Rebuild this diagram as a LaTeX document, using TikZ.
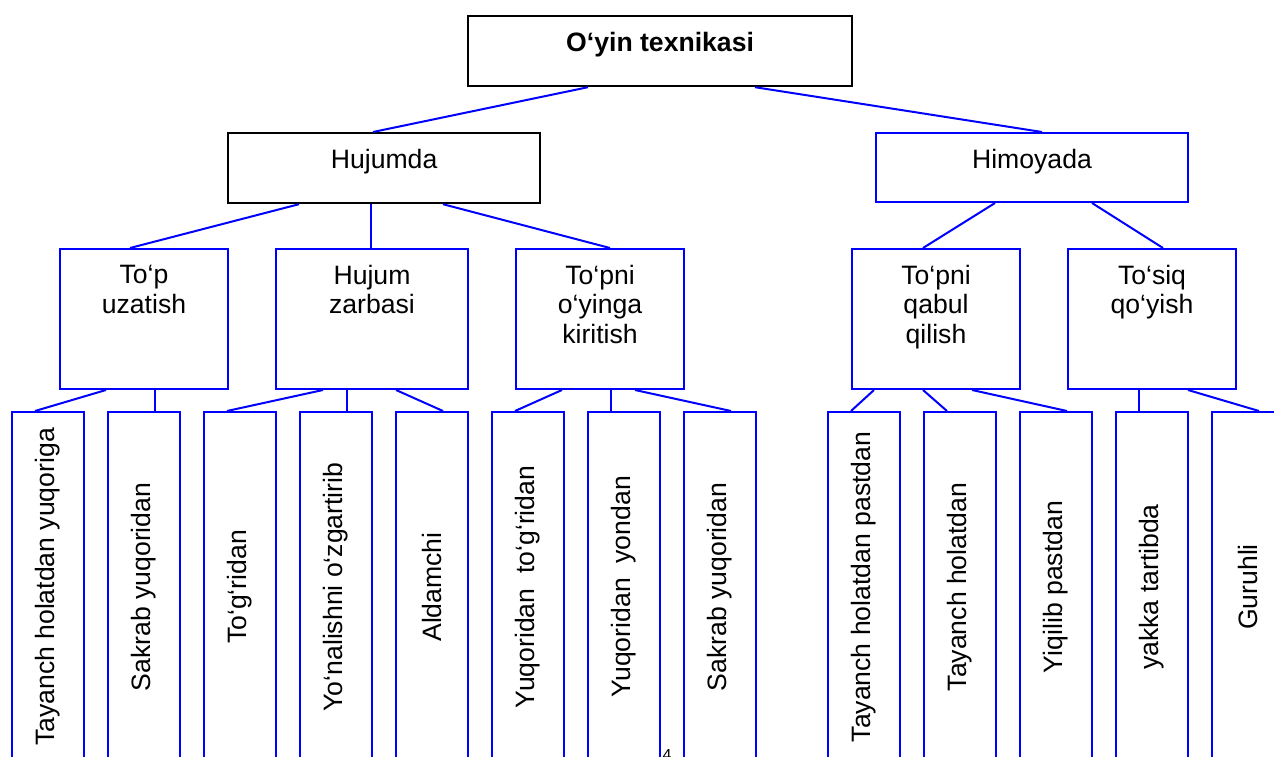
\documentclass[tikz,border=0pt]{standalone}
\usepackage{fontspec}
\setmainfont{Liberation Sans}
\usetikzlibrary{calc}
\tikzset{
  con/.style={draw=blue, line width=2pt},
  boxK/.style={rectangle, draw=black, line width=2.2pt, minimum width=#1, minimum height=70pt, inner sep=0pt, anchor=north west},
  boxB/.style={rectangle, draw=blue, line width=2pt, minimum width=#1, minimum height=69pt, inner sep=0pt, anchor=north west},
  midbox/.style={rectangle, draw=blue, line width=2pt, minimum width=#1, minimum height=140pt, inner sep=0pt, anchor=north west},
  leafbox/.style={rectangle, draw=blue, line width=2pt, minimum width=72pt, minimum height=350pt, inner sep=0pt, anchor=north west, font=\fontsize{26.6}{29.5}\selectfont},
  txt/.style={inner sep=0pt, align=center, font=\fontsize{26.6}{29.5}\selectfont}
}
\begin{document}
\begin{tikzpicture}[x=1pt,y=-1pt]
\useasboundingbox (0,0) rectangle (1274,757);
\fill[white] (0,0) rectangle (1274,757);
\clip (0,0) rectangle (1274,757);

% level 0
\node[boxK=384pt] (t) at (467,15) {};
\node[txt, anchor=base, font=\fontsize{26.6}{29.5}\selectfont\bfseries] (tt) at ($(t.north)+(0,37)$) {O‘yin texnikasi};

% level 1
\node[boxK=312pt] (hu) at (227,132) {};
\node[txt, anchor=base] (hut) at ($(hu.north)+(0,36)$) {Hujumda};
\node[boxB=312pt] (hi) at (875,132) {};
\node[txt, anchor=base] (hit) at ($(hi.north)+(0,36)$) {Himoyada};

% level 2
\node[midbox=168pt] (p1) at (59,248) {};
\node[midbox=192pt] (p2) at (275,248) {};
\node[midbox=168pt] (p3) at (515,248) {};
\node[midbox=168pt] (p4) at (851,248) {};
\node[midbox=168pt] (p5) at (1067,248) {};
\node[txt, anchor=north] (p1t) at ($(p1.north)+(0,17)$) {To‘p\\uzatish};
\node[txt, anchor=north] (p2t) at ($(p2.north)+(0,17)$) {Hujum\\zarbasi};
\node[txt, anchor=north] (p3t) at ($(p3.north)+(0,17)$) {To‘pni\\o‘yinga\\kiritish};
\node[txt, anchor=north] (p4t) at ($(p4.north)+(0,17)$) {To‘pni\\qabul\\qilish};
\node[txt, anchor=north] (p5t) at ($(p5.north)+(0,17)$) {To‘siq\\qo‘yish};

% leaves
\node[leafbox] (l1) at (11,411) {\rotatebox{90}{Tayanch holatdan yuqoriga}};
\node[leafbox] (l2) at (107,411) {\rotatebox{90}{Sakrab yuqoridan}};
\node[leafbox] (l3) at (203,411) {\rotatebox{90}{To‘g‘ridan}};
\node[leafbox] (l4) at (299,411) {\rotatebox{90}{Yo‘nalishni o‘zgartirib}};
\node[leafbox] (l5) at (395,411) {\rotatebox{90}{Aldamchi}};
\node[leafbox] (l6) at (491,411) {\rotatebox{90}{Yuqoridan\ \ to‘g‘ridan}};
\node[leafbox] (l7) at (587,411) {\rotatebox{90}{Yuqoridan\ \ yondan}};
\node[leafbox] (l8) at (683,411) {\rotatebox{90}{Sakrab yuqoridan}};
\node[leafbox] (l9) at (827,411) {\rotatebox{90}{Tayanch holatdan pastdan}};
\node[leafbox] (l10) at (923,411) {\rotatebox{90}{Tayanch holatdan}};
\node[leafbox] (l11) at (1019,411) {\rotatebox{90}{Yiqilib pastdan}};
\node[leafbox] (l12) at (1115,411) {\rotatebox{90}{yakka tartibda}};
\node[leafbox] (l13) at (1211,411) {\rotatebox{90}{Guruhli}};

% connectors
\draw[con] ($(t.south west)+(121,0)$) -- ($(hu.north west)+(146,0)$);
\draw[con] ($(t.south west)+(288,0)$) -- ($(hi.north west)+(167,0)$);
\draw[con] ($(hu.south west)+(72,0)$) -- ($(p1.north west)+(71,0)$);
\draw[con] ($(hu.south west)+(144,0)$) -- ($(p2.north west)+(96,0)$);
\draw[con] ($(hu.south west)+(216,0)$) -- ($(p3.north west)+(95,0)$);
\draw[con] ($(hi.south west)+(120,0)$) -- ($(p4.north west)+(72,0)$);
\draw[con] ($(hi.south west)+(217,0)$) -- ($(p5.north west)+(96,0)$);
\draw[con] ($(p1.south west)+(47,0)$) -- ($(l1.north west)+(24,0)$);
\draw[con] ($(p1.south west)+(96,0)$) -- ($(l2.north west)+(48,0)$);
\draw[con] ($(p2.south west)+(48,0)$) -- ($(l3.north west)+(24,0)$);
\draw[con] ($(p2.south west)+(72,0)$) -- ($(l4.north west)+(48,0)$);
\draw[con] ($(p2.south west)+(121,0)$) -- ($(l5.north west)+(48,0)$);
\draw[con] ($(p3.south west)+(47,0)$) -- ($(l6.north west)+(24,0)$);
\draw[con] ($(p3.south west)+(96,0)$) -- ($(l7.north west)+(24,0)$);
\draw[con] ($(p3.south west)+(120,0)$) -- ($(l8.north west)+(48,0)$);
\draw[con] ($(p4.south west)+(23,0)$) -- ($(l9.north west)+(24,0)$);
\draw[con] ($(p4.south west)+(72,0)$) -- ($(l10.north west)+(24,0)$);
\draw[con] ($(p4.south west)+(121,0)$) -- ($(l11.north west)+(48,0)$);
\draw[con] ($(p5.south west)+(72,0)$) -- ($(l12.north west)+(24,0)$);
\draw[con] ($(p5.south west)+(121,0)$) -- ($(l13.north west)+(48,0)$);

% page number
\node[inner sep=0pt, anchor=base, font=\fontsize{16}{18}\selectfont] (pg) at (667,760) {4};
\end{tikzpicture}
\end{document}
